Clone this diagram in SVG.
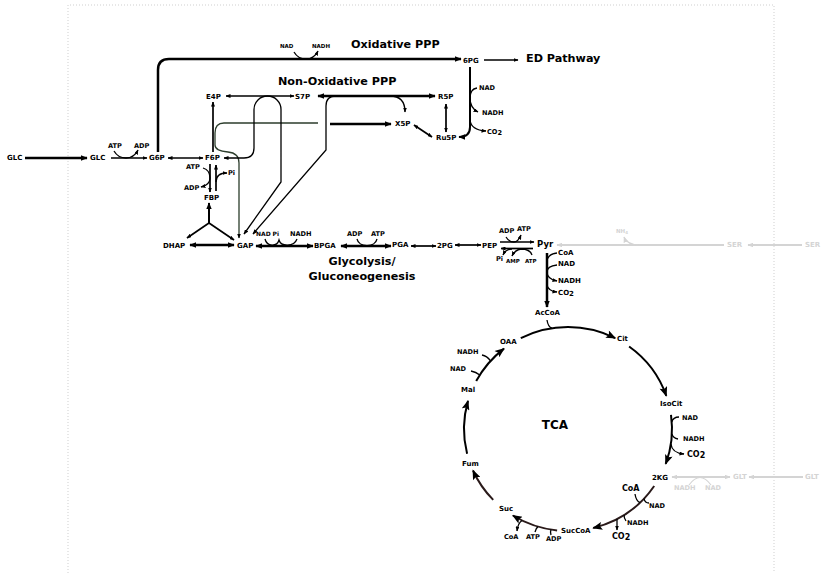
<svg xmlns="http://www.w3.org/2000/svg" width="821" height="573" viewBox="0 0 821 573">
<style>
text{font-family:"DejaVu Sans","Liberation Sans",sans-serif;font-weight:bold;fill:#000}
.m{font-size:7px}
.p{font-size:8.5px}
.c{font-size:6.6px}
.c6{font-size:6px}
.xs{font-size:5.5px}
.c8{font-size:8px}
.h{font-size:11.2px}
.tca{font-size:12px}
.gt{fill:#d4d4d4}
.l{fill:none;stroke:#000;stroke-width:1.3}
.M{stroke-width:1.7}
.L{stroke-width:2.5}
.T{stroke-width:2}
.dk{stroke:#2a1a1a}
.gr{stroke:#d4d4d4;stroke-width:1.8}
.gn{stroke:#2c3d2c}
.ae{marker-end:url(#a)}
.ab{marker-start:url(#a);marker-end:url(#a)}
.Le{marker-end:url(#b)}
.Lb{marker-start:url(#b);marker-end:url(#b)}
.te{marker-end:url(#t)}
.ge{marker-end:url(#g)}
.gb{marker-start:url(#g);marker-end:url(#g)}
</style>
<defs>
<marker id="a" viewBox="0 0 10 8" refX="9" refY="4" markerWidth="5" markerHeight="4" orient="auto-start-reverse" markerUnits="userSpaceOnUse"><path d="M0,0 L10,4 L0,8 z" fill="#000"/></marker>
<marker id="b" viewBox="0 0 10 8" refX="9" refY="4" markerWidth="7" markerHeight="5.6" orient="auto-start-reverse" markerUnits="userSpaceOnUse"><path d="M0,0 L10,4 L0,8 z" fill="#000"/></marker>
<marker id="t" viewBox="0 0 10 8" refX="9" refY="4" markerWidth="11" markerHeight="8" orient="auto" markerUnits="userSpaceOnUse"><path d="M0,0 L10,4 L0,8 L2,4 z" fill="#000"/></marker>
<marker id="g" viewBox="0 0 10 8" refX="9" refY="4" markerWidth="6" markerHeight="4.8" orient="auto-start-reverse" markerUnits="userSpaceOnUse"><path d="M0,0 L10,4 L0,8 z" fill="#d4d4d4"/></marker>
</defs>
<path d="M68,573 V5 H774 V573" fill="none" stroke="#cfcfcf" stroke-width="1" stroke-dasharray="1,2"/>

<g id="connectors">
<path class="l L Le" d="M25,158 H87"/>
<path class="l M ae" d="M111,158 H147"/>
<path class="l M ab" d="M168,158 H203"/>
<path class="l L Le" d="M158,152 V70 Q158,59 169,59 H461"/>
<path class="l M ae" d="M484,60 H518"/>
<path class="l T Le" d="M470,67 V127 Q470,137 459,137"/>
<path class="l ab" d="M226,96 H294"/>
<path class="l L Lb" d="M318,96 H435"/>
<path class="l ae" d="M390,96 Q405,96 405,112"/>
<path class="l L Le" d="M330,124 H391"/>
<path class="l M ab" d="M414,125 L432,137"/>
<path class="l M ab" d="M446,104 V132"/>
<path class="l M ae" d="M213,152 V102"/>
<path class="l gn ae" d="M318,123 H224 Q215,123 215,133 V145 Q215,151 228,152 Q239,153 239,163 V238"/>
<path class="l ab" d="M224,158 H244 Q254,158 254,148 V109.5 A13.5,13.5 0 0 1 281,109.5 V182 L244,234"/>
<path class="l ae" d="M336,96 Q326,96 326,106 V150 L253,234"/>
<path class="l M ae" d="M210,164 V192"/>
<path class="l M ae" d="M216,191 V165"/>
<path class="l T Le" d="M209,223 V203"/>
<path class="l M ae" d="M209,223 L187,238"/>
<path class="l M ae" d="M209,223 L234,240"/>
<path class="l L Lb" d="M190,245 H234"/>
<path class="l L Lb" d="M256,246 H313"/>
<path class="l L Lb" d="M341,246 H391"/>
<path class="l M ab" d="M411,246 H436"/>
<path class="l M ab" d="M455,245 H481"/>
<path class="l M ae" d="M500,242 H534"/>
<path class="l M ae" d="M533,248.5 H501"/>
<path class="l gr ge" d="M724,245 H557"/>
<path class="l gr ge" d="M802,245 H748"/>
<path class="l L Le" d="M547,253 V307"/>
<path class="l gr gb" d="M672,477 H730"/>
<path class="l gr ge" d="M803,477 H749"/>

<path class="l ae" d="M294,52 Q298,59 306,59 Q314,59 318,51"/>
<path class="l ae" d="M477,88 Q470,89 470,98 Q470,108 478,112"/>
<path class="l ae" d="M470,120 Q471,130 486,131"/>
<path class="l ae" d="M114,151 Q118,158 126,158 Q134,158 138,150"/>
<path class="l ae" d="M203,168 Q210,170 210,178 Q210,185 201,187"/>
<path class="l ae" d="M216,182 Q216,173 227,173"/>
<path class="l" d="M265,239 C267,247 277,247 279,240 C281,247 294,247 297,239"/>
<path class="l" d="M357,239 C359,248 375,248 377,239"/>
<path class="l ae" d="M506,237 Q509,242 514,242 Q518,242 521,235"/>
<path class="l ae" d="M512,249 Q506,249 503,255"/>
<path class="l ae" d="M532,255 Q530,249 521,249 Q515,250 512,256"/>
<path class="l" d="M557,253 Q548,254 547,261"/>
<path class="l ae" d="M557,265 Q547,266 547,272 Q547,279 557,281"/>
<path class="l ae" d="M547,285 Q548,291 557,292"/>
<path class="l gr ge" style="stroke-width:1.2" d="M640,245 Q627,245 624,237"/>
<path class="l gr" style="stroke-width:1.2" d="M689,485 Q700,470 711,485"/>

<path class="l T te" d="M520.8,338.1 A104,102 0 0 1 615.2,338.1"/>
<path class="l T te" d="M629.1,346.5 A104,102 0 0 1 666.3,395.8"/>
<path class="l T te" d="M671,414.8 A104,102 0 0 1 665.7,463.9"/>
<path class="l T te dk" d="M654.2,486 A104,102 0 0 1 593.2,528"/>
<path class="l T te dk" d="M557.1,530.4 A104,102 0 0 1 512.9,515.5"/>
<path class="l T te dk" d="M493.2,499.9 A104,102 0 0 1 473,470.5"/>
<path class="l T te" d="M467.1,453.7 A104,102 0 0 1 468,400.9"/>
<path class="l T te" d="M476.2,381.1 A104,102 0 0 1 504,348.6"/>
<path class="l" d="M547,320 Q548,327 552,328.2"/>
<path class="l" d="M482,355 Q487,356 490.5,360.8"/>
<path class="l" d="M471,371 Q476,372 479.8,375"/>
<path class="l" d="M679,417 Q673,417 671.8,422"/>
<path class="l" d="M678,439 Q673,438 671.9,434"/>
<path class="l ae" d="M670.9,444 Q672,453 684,454"/>
<path class="l" d="M635,494 Q636,501 640,502.6"/>
<path class="l" d="M649,503 Q645,503 644,498.6"/>
<path class="l" d="M626,521 Q624,518 624,515"/>
<path class="l ae" d="M617,519 V530"/>
<path class="l ae" d="M522,520.5 Q518,523 517,531"/>
<path class="l" d="M535,532 Q536,528 538,526.6"/>
<path class="l" d="M551,535 Q550,532 551,529.6"/>
</g>

<g id="titles">
<text class="h" x="351" y="48">Oxidative PPP</text>
<text class="h" x="526" y="62">ED Pathway</text>
<text class="h" x="278" y="85">Non-Oxidative PPP</text>
<text class="h" x="362" y="265" text-anchor="middle">Glycolysis/</text>
<text class="h" x="362" y="280" text-anchor="middle">Gluconeogenesis</text>
<text class="tca" x="555" y="429" text-anchor="middle">TCA</text>
</g>

<g id="n-GLC-ext"><text class="m" x="7" y="160">GLC</text></g>
<g id="n-GLC"><text class="m" x="90" y="160">GLC</text></g>
<g id="n-G6P"><text class="m" x="149" y="160">G6P</text></g>
<g id="n-F6P"><text class="m" x="205" y="160">F6P</text></g>
<g id="n-FBP"><text class="m" x="204" y="200">FBP</text></g>
<g id="n-DHAP"><text class="m" x="163" y="248">DHAP</text></g>
<g id="n-GAP"><text class="m" x="237" y="248">GAP</text></g>
<g id="n-BPGA"><text class="m" x="314" y="248">BPGA</text></g>
<g id="n-PGA"><text class="m" x="392" y="247">PGA</text></g>
<g id="n-2PG"><text class="m" x="437" y="248">2PG</text></g>
<g id="n-PEP"><text class="m" x="482" y="248">PEP</text></g>
<g id="n-Pyr"><text class="p" x="537" y="247">Pyr</text></g>
<g id="n-E4P"><text class="m" x="206" y="99">E4P</text></g>
<g id="n-S7P"><text class="m" x="295" y="99">S7P</text></g>
<g id="n-R5P"><text class="m" x="438" y="99">R5P</text></g>
<g id="n-X5P"><text class="m" x="395" y="126">X5P</text></g>
<g id="n-Ru5P"><text class="m" x="436" y="140">Ru5P</text></g>
<g id="n-6PG"><text class="m" x="463" y="63">6PG</text></g>
<g id="n-AcCoA"><text class="m" x="535" y="315">AcCoA</text></g>
<g id="n-OAA"><text class="m" x="500" y="344">OAA</text></g>
<g id="n-Cit"><text class="m" x="617" y="341">Cit</text></g>
<g id="n-IsoCit"><text class="m" x="660" y="406">IsoCit</text></g>
<g id="n-2KG"><text class="m" x="652" y="480">2KG</text></g>
<g id="n-SucCoA"><text class="m" x="561" y="533">SucCoA</text></g>
<g id="n-Suc"><text class="m" x="499" y="511">Suc</text></g>
<g id="n-Fum"><text class="m" x="462" y="466">Fum</text></g>
<g id="n-Mal"><text class="m" x="461" y="392">Mal</text></g>
<g id="n-SER"><text class="m gt" x="727" y="247">SER</text></g>
<g id="n-SER-ext"><text class="m gt" x="805" y="247">SER</text></g>
<g id="n-GLT"><text class="m gt" x="733" y="479">GLT</text></g>
<g id="n-GLT-ext"><text class="m gt" x="805" y="479">GLT</text></g>

<g id="cofactors">
<text class="xs" x="280" y="48">NAD</text>
<text class="xs" x="312" y="48">NADH</text>
<text class="c" x="479" y="90">NAD</text>
<text class="c" x="482" y="115">NADH</text>
<text class="c" x="487" y="134">CO<tspan dy="0.8">2</tspan></text>
<text class="c" x="108" y="148">ATP</text>
<text class="c" x="134" y="148">ADP</text>
<text class="c" x="186" y="169">ATP</text>
<text class="c" x="184" y="190">ADP</text>
<text class="c" x="228" y="175">Pi</text>
<text class="c6" x="256" y="236">NAD</text>
<text class="c6" x="272.5" y="236">Pi</text>
<text class="c" x="290" y="236">NADH</text>
<text class="c" x="347" y="236">ADP</text>
<text class="c" x="371" y="236">ATP</text>
<text class="c" x="499" y="233">ADP</text>
<text class="c" x="517" y="231">ATP</text>
<text class="c" x="496" y="261">Pi</text>
<text class="xs" x="506" y="263">AMP</text>
<text class="xs" x="525" y="263">ATP</text>
<text class="m" x="558" y="255">CoA</text>
<text class="m" x="558" y="266">NAD</text>
<text class="m" x="558" y="283">NADH</text>
<text class="m" x="558" y="295">CO<tspan dy="0.8">2</tspan></text>
<text class="c" x="457" y="354">NADH</text>
<text class="c" x="450" y="371">NAD</text>
<text class="c" x="682" y="420">NAD</text>
<text class="c" x="683" y="441">NADH</text>
<text class="c8" x="687" y="457">CO<tspan dy="0.8">2</tspan></text>
<text class="c8" x="622" y="491">CoA</text>
<text class="c" x="649" y="508">NAD</text>
<text class="c" x="627" y="525">NADH</text>
<text class="c8" x="612" y="539">CO<tspan dy="0.8">2</tspan></text>
<text class="c" x="504" y="539">CoA</text>
<text class="c" x="526" y="539">ATP</text>
<text class="c" x="546" y="541">ADP</text>
<text class="xs gt" x="616" y="233">NH<tspan font-size="4" dy="0.8">4</tspan></text>
<text class="c gt" x="674" y="490">NADH</text>
<text class="c gt" x="705" y="490">NAD</text>
</g>
</svg>
